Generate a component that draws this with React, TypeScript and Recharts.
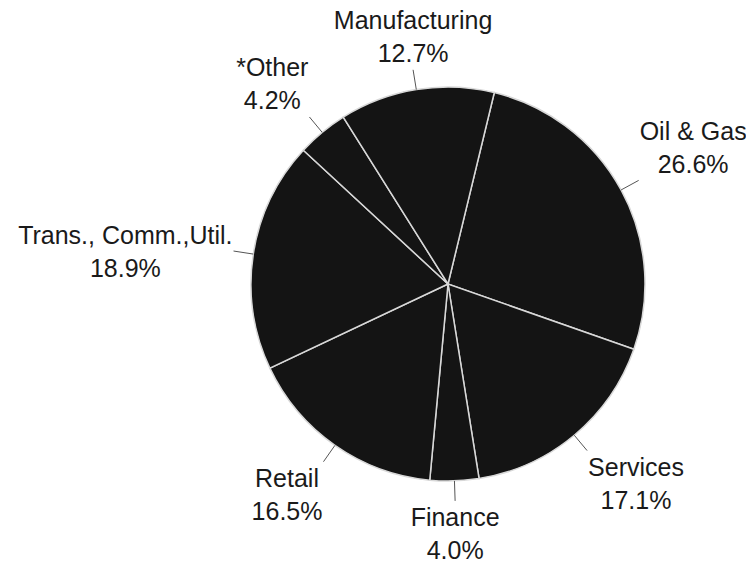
import { Cell, Pie, PieChart } from "recharts";

const sectors = [
  "Oil & Gas",
  "Services",
  "Finance",
  "Retail",
  "Trans., Comm.,Util.",
  "*Other",
  "Manufacturing",
];
const shares = [26.6, 17.1, 4.0, 16.5, 18.9, 4.2, 12.7];

const data = sectors.map((name, i) => ({ name, value: shares[i] }));

const RAD = Math.PI / 180;
const FONT_SIZE = 25;
const FONT = `${FONT_SIZE}px 'Liberation Sans', Arial, sans-serif`;
const LINE_GAP = 33;

let ctx: CanvasRenderingContext2D | null = null;
function textWidth(s: string) {
  if (!ctx) ctx = document.createElement("canvas").getContext("2d");
  if (!ctx) return s.length * FONT_SIZE * 0.5;
  ctx.font = FONT;
  return ctx.measureText(s).width;
}

// pushes a direction component to 0 near the axis and to +/-1 away from it
function squash(u: number) {
  const m = Math.min(1, Math.max(0, (Math.abs(u) - 0.2) * 4));
  return Math.sign(u) * m;
}

function renderLabel(props: any) {
  const { cx, cy, midAngle, outerRadius, name, value } = props;
  const ux = Math.cos(-midAngle * RAD);
  const uy = Math.sin(-midAngle * RAD);
  const x0 = cx + outerRadius * ux;
  const y0 = cy + outerRadius * uy;
  const px = cx + (outerRadius + 20) * ux;
  const py = cy + (outerRadius + 20) * uy;
  const pct = `${Number(value).toFixed(1)}%`;
  const hw = Math.max(textWidth(name), textWidth(pct)) / 2;
  const xc = px + squash(ux) * (hw + 1);
  const yc = py + squash(uy) * (26 + 7);
  const y1 = yc - 7.5;
  return (
    <g>
      <line x1={x0} y1={y0} x2={px} y2={py} stroke="#555" strokeWidth={1} />
      <text
        x={xc}
        y={y1}
        textAnchor="middle"
        fill="#1a1a1a"
        style={{ font: FONT }}
      >
        {name}
      </text>
      <text
        x={xc}
        y={y1 + LINE_GAP}
        textAnchor="middle"
        fill="#1a1a1a"
        style={{ font: FONT }}
      >
        {pct}
      </text>
    </g>
  );
}

export default function App() {
  return (
    <div style={{ width: 754, height: 564, margin: "-8px 0 0 -8px", background: "#fff" }}>
      <PieChart width={754} height={564} style={{ overflow: "visible" }}>
        <Pie
          data={data}
          dataKey="value"
          nameKey="name"
          cx={443}
          cy={279}
          outerRadius={197}
          startAngle={76.4}
          endAngle={-283.6}
          stroke="#d8d8d8"
          strokeWidth={1.5}
          label={renderLabel}
          labelLine={false}
          isAnimationActive={false}
        >
          {data.map((d) => (
            <Cell key={d.name} fill="#141414" />
          ))}
        </Pie>
      </PieChart>
    </div>
  );
}
